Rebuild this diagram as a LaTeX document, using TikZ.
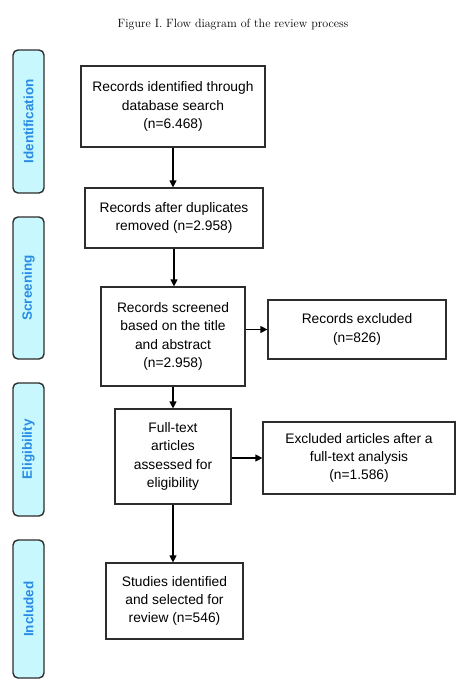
\documentclass[tikz,border=0pt]{standalone}
\usepackage{fontspec}
\setsansfont{Liberation Sans}
\usetikzlibrary{arrows.meta}
\definecolor{phasefill}{RGB}{200,248,254}
\definecolor{phasetext}{RGB}{40,140,230}
\definecolor{boxline}{RGB}{45,45,45}
\begin{document}
\begin{tikzpicture}[
            x=1pt, y=-1pt,
            box/.style={draw=boxline, line width=1.2pt, fill=white, align=center, inner sep=2pt,
                font=\sffamily\fontsize{13.8}{18.3}\selectfont},
            phase/.style={draw=boxline, line width=1.4pt, fill=phasefill, rounded corners=5pt,
                rotate=90, minimum height=31pt, inner sep=0pt, text=phasetext,
                font=\sffamily\bfseries\fontsize{13.5}{15}\selectfont},
            arr/.style={-{Triangle[length=7pt,width=7pt]}, line width=1.2pt, draw=black}
        ]
        \useasboundingbox[fill=white] (0,0) rectangle (465,696);

        % Title
        \node (title) at (233,25) {\fontsize{12}{14}\selectfont Figure I. Flow diagram of the review process};

        % Phases on the left
        \node[phase, minimum width=143pt] (ident) at (28.5,121.5) {Identification};
        \node[phase, minimum width=142pt] (screen) at (28.5,288) {Screening};
        \node[phase, minimum width=133pt] (elig) at (28.5,449.5) {Eligibility};
        \node[phase, minimum width=138pt] (incl) at (28.5,609) {Included};

        % Main flow
        \node[box, minimum width=184pt, minimum height=81pt] (found) at (173,106.5)
            {Records identified through\\database search\\(n=6.468)};
        \node[box, minimum width=178pt, minimum height=60pt] (nodup) at (174,218)
            {Records after duplicates\\removed (n=2.958)};
        \node[box, minimum width=144pt, minimum height=99pt] (screened) at (173,336.5)
            {Records screened\\based on the title\\and abstract\\(n=2.958)};
        \node[box, minimum width=116pt, minimum height=95pt] (fulltext) at (173,456.5)
            {Full-text\\articles\\assessed for\\eligibility};
        \node[box, minimum width=137pt, minimum height=76pt] (selected) at (174.5,601)
            {Studies identified\\and selected for\\review (n=546)};

        % Exclusions
        \node[box, minimum width=178pt, minimum height=59pt] (excl1) at (357,329.5)
            {Records excluded\\(n=826)};
        \node[box, minimum width=192pt, minimum height=72pt] (excl2) at (359,458)
            {Excluded articles after a\\full-text analysis\\(n=1.586)};

        % Arrows
        \draw[arr] (found.south) -- (found.south |- nodup.north);
        \draw[arr] (nodup.south) -- (nodup.south |- screened.north);
        \draw[arr] (screened.south) -- (screened.south |- fulltext.north);
        \draw[arr] (fulltext.south) -- (fulltext.south |- selected.north);
        \draw[arr] (screened.east |- excl1.west) -- (excl1.west);
        \draw[arr] (fulltext.east |- excl2.west) -- (excl2.west);
\end{tikzpicture}
\end{document}
